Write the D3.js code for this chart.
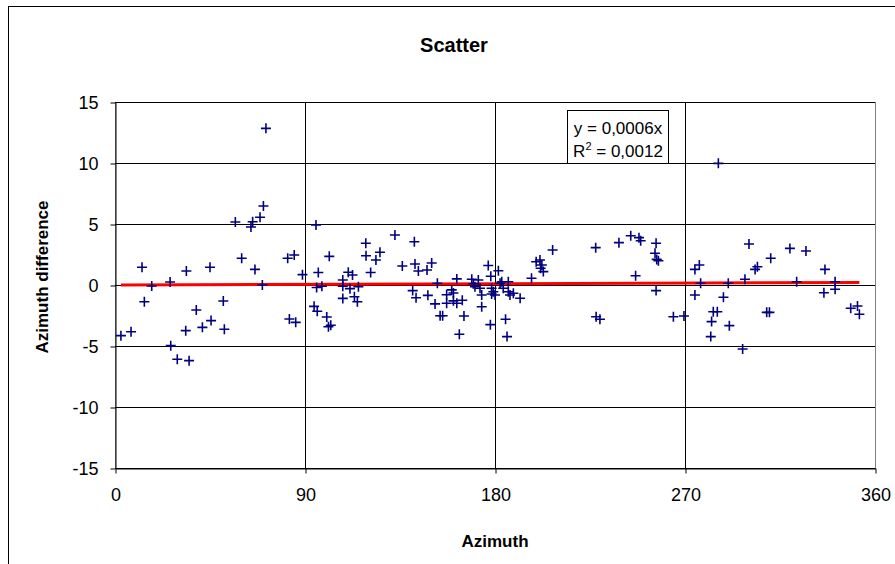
<!DOCTYPE html>
<html>
<head>
<meta charset="utf-8">
<script src="https://cdn.jsdelivr.net/npm/d3@7"></script>
<style>
  body { margin: 0; background: #fff; }
  text { font-family: Arial, "Liberation Sans", sans-serif; }
</style>
</head>
<body>
<div id="chart"></div>
<script>
// azimuth (deg) / azimuth difference
var azimuth = [2.8, 7.6, 12.8, 13.9, 17.4, 26.1, 26.4, 29.5, 33.5, 33.8, 35.1, 38.5, 41.4, 45.0, 45.5, 51.3, 51.8, 57.0, 60.0, 64.4,
  65.2, 66.3, 68.7, 69.8, 70.3, 71.5, 81.8, 82.6, 84.9, 85.6, 88.8,
  94.3, 95.2, 95.5, 95.8, 96.3, 98.0, 100.3, 101.1, 101.5, 102.2, 107.9, 107.9, 107.9, 110.5, 111.3, 112.5, 113.4, 114.8, 115.3,
  118.8, 118.9, 121.1, 123.6, 125.5, 132.6, 136.1, 141.0, 141.8, 142.1, 142.6, 143.7, 147.8, 148.2, 150.0, 151.6, 152.7, 154.0, 155.2,
  157.1, 159.5, 160.3, 161.9, 157.1, 160.3, 161.9, 164.5, 165.3, 163.1,
  169.0, 169.7, 172.1, 170.5, 172.9, 173.7, 173.7, 176.8, 178.0, 181.6, 178.4, 179.2, 180.0, 178.4, 182.4, 183.2, 186.3, 183.9,
  186.3, 188.7, 187.1, 191.9, 177.8, 185.0, 185.7, 197.3, 199.5, 201.3, 202.2, 201.6, 202.9,
  207.3, 227.7, 227.9, 229.7, 238.7, 244.3, 246.6, 248.2, 249.0, 255.8, 256.3, 256.6, 257.4, 256.3, 264.5, 269.5,
  274.7, 276.8, 277.4, 274.7, 282.2, 282.6, 283.4, 285.3, 285.8, 288.2, 290.5, 291.0, 297.3, 298.4, 300.3, 303.2, 304.3, 308.7,
  310.0, 310.6, 319.7, 322.9, 327.3, 335.8, 336.3, 341.1, 341.1, 348.5, 351.7, 352.6];
var difference = [-4.15, -3.83, 1.45, -1.37, -0.08, 0.25, -4.97, -6.09, -3.74, 1.15, -6.2, -2.05, -3.47, 1.45, -2.92, -1.31, -3.63, 5.16, 2.19, 4.75,
  5.19, 1.28, 5.55, 0.0, 6.48, 12.84, 2.19, -2.79, 2.46, -3.06, 0.85,
  -1.75, 4.92, -0.2, -2.15, 1.02, -0.1, -2.62, -3.42, 2.35, -3.3, 0.41, -0.1, -1.1, 1.05, -0.3, 0.82, -0.96, -1.37, -0.14,
  3.42, 2.4, 1.02, 2.05, 2.68, 4.1, 1.56, -0.46, 3.55, 1.72, -1.04, 1.15, 1.23, -0.85, 1.8, -1.55, 0.14, -2.52, -2.52,
  -0.8, -0.4, -0.65, 0.5, -1.5, -1.3, -1.5, -1.25, -2.54, -4.04,
  0.47, 0.1, 0.41, -0.14, -0.27, -0.82, -1.78, 1.6, 0.72, 1.17, -0.27, -0.55, -0.82, -0.74, 0.14, 0.27, 0.27, -0.27,
  -0.55, -0.68, -0.82, -1.09, -3.25, -2.81, -4.23, 0.55, 1.91, 2.05, 1.64, 1.37, 1.1,
  2.87, 3.06, -2.6, -2.81, 3.47, 4.04, 0.76, 3.88, 3.63, 2.6, 3.42, 2.1, 1.99, -0.46, -2.6, -2.54,
  1.28, 1.64, 0.14, -0.82, -4.23, -3.0, -2.19, -2.19, 9.97, -1.01, 0.14, -3.33, -5.25, 0.47, 3.36, 1.28, 1.5, -2.24,
  -2.24, 2.19, 3.0, 0.27, 2.79, -0.63, 1.28, 0.27, -0.35, -1.91, -1.72, -2.4];

var xTicks = [0, 90, 180, 270, 360];
var yTicks = [-15, -10, -5, 0, 5, 10, 15];
var slope = 0.0006;
var fitLines = ["y = 0,0006x", "R² = 0,0012"];

var width = 895, height = 564;
var plot = {left: 115, right: 875, top: 102, bottom: 468};

var points = azimuth.map(function (a, i) { return {x: a, y: difference[i]}; });

var svg = d3.select("#chart").append("svg")
    .attr("width", width)
    .attr("height", height);

// chart area border (runs off right and bottom edge)
svg.append("rect")
    .attr("x", 8.5).attr("y", 6.5)
    .attr("width", 900).attr("height", 600)
    .attr("fill", "#fff")
    .attr("stroke", "#000");

var x = d3.scaleLinear().domain([0, 360]).range([plot.left, plot.right]);
var y = d3.scaleLinear().domain([-15, 15]).range([plot.bottom, plot.top]);

// plot area frame
svg.append("rect")
    .attr("x", plot.left + 0.5).attr("y", plot.top + 0.5)
    .attr("width", plot.right - plot.left).attr("height", plot.bottom - plot.top)
    .attr("fill", "none")
    .attr("stroke", "#808080");

// gridlines
svg.append("g").selectAll("line")
    .data(yTicks)
    .join("line")
    .attr("x1", plot.left).attr("x2", plot.right)
    .attr("y1", function (d) { return Math.round(y(d)) + 0.5; })
    .attr("y2", function (d) { return Math.round(y(d)) + 0.5; })
    .attr("stroke", "#000");
svg.append("g").selectAll("line")
    .data(xTicks.slice(1, -1))
    .join("line")
    .attr("y1", plot.top).attr("y2", plot.bottom)
    .attr("x1", function (d) { return Math.round(x(d)) + 0.5; })
    .attr("x2", function (d) { return Math.round(x(d)) + 0.5; })
    .attr("stroke", "#000");

// axes (plain hyphen for negatives, like the original)
var xAxis = svg.append("g")
    .attr("transform", "translate(0.5," + (Math.round(y(-15)) + 0.5) + ")")
    .call(d3.axisBottom(x).tickValues(xTicks).tickFormat(String).tickSize(5).tickPadding(15).tickSizeOuter(0));
var yAxis = svg.append("g")
    .attr("transform", "translate(" + (plot.left + 0.5) + ",0.5)")
    .call(d3.axisLeft(y).tickValues(yTicks).tickFormat(String).tickSize(5).tickPadding(12).tickSizeOuter(0));
[xAxis, yAxis].forEach(function (g) {
    g.select(".domain").attr("stroke", "#000");
    g.selectAll(".tick line").attr("stroke", "#000");
    g.selectAll(".tick text")
        .attr("fill", "#000")
        .style("font-size", "18px")
        .style("font-family", "Arial, 'Liberation Sans', sans-serif");
});
yAxis.selectAll(".tick text").attr("dy", "0.35em");

// trendline
var xMin = d3.min(azimuth), xMax = d3.max(azimuth);
svg.append("line")
    .attr("x1", x(xMin)).attr("y1", y(slope * xMin))
    .attr("x2", x(xMax)).attr("y2", y(slope * xMax))
    .attr("stroke", "#ff0000")
    .attr("stroke-width", 3);

// markers
var s = 5;
svg.append("g").selectAll("path")
    .data(points)
    .join("path")
    .attr("d", function (d) {
        var px = x(d.x), py = y(d.y);
        return "M" + (px - s) + "," + py + "H" + (px + s) + "M" + px + "," + (py - s) + "V" + (py + s);
    })
    .attr("stroke", "#000080")
    .attr("stroke-width", 1.6)
    .attr("fill", "none");

// equation box
svg.append("rect")
    .attr("x", 567.5).attr("y", 110.5)
    .attr("width", 101).attr("height", 53)
    .attr("fill", "#fff")
    .attr("stroke", "#000");
svg.append("text")
    .attr("x", 618).attr("y", 134)
    .attr("text-anchor", "middle")
    .style("font-size", "17px")
    .text(fitLines[0]);
var r2 = svg.append("text")
    .attr("x", 618).attr("y", 157)
    .attr("text-anchor", "middle")
    .style("font-size", "17px");
r2.append("tspan").text("R");
r2.append("tspan").attr("dy", -7).style("font-size", "11px").text("2");
r2.append("tspan").attr("dy", 7).text(fitLines[1].slice(2));

// titles
svg.append("text")
    .attr("x", 454).attr("y", 52)
    .attr("text-anchor", "middle")
    .style("font-size", "20px")
    .style("font-weight", "bold")
    .text("Scatter");
svg.append("text")
    .attr("x", (plot.left + plot.right) / 2).attr("y", 547)
    .attr("text-anchor", "middle")
    .style("font-size", "17px")
    .style("font-weight", "bold")
    .text("Azimuth");
svg.append("text")
    .attr("transform", "translate(48,277) rotate(-90)")
    .attr("text-anchor", "middle")
    .style("font-size", "17px")
    .style("font-weight", "bold")
    .text("Azimuth difference");
</script>
</body>
</html>
